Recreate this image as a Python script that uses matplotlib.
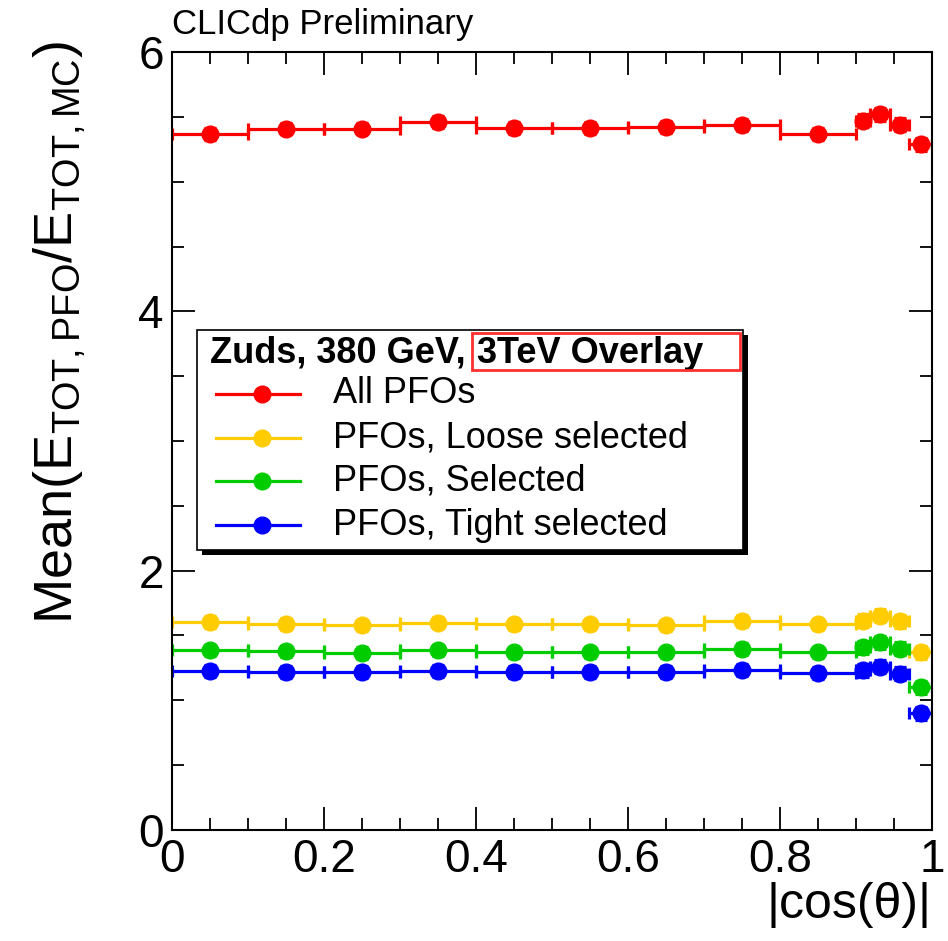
import numpy as np
import matplotlib
matplotlib.use("Agg")
import matplotlib.pyplot as plt
from matplotlib.patches import Rectangle
from matplotlib.ticker import MultipleLocator, FuncFormatter

plt.rcParams['font.family'] = ['Liberation Sans', 'DejaVu Sans']
plt.rcParams['mathtext.fontset'] = 'custom'
plt.rcParams['mathtext.rm'] = 'Liberation Sans'
plt.rcParams['mathtext.it'] = 'Liberation Sans:italic'

# |cos(theta)| binning: 0.1 wide up to 0.9, finer towards the edge
bin_edges = [0.0, 0.1, 0.2, 0.3, 0.4, 0.5, 0.6, 0.7, 0.8, 0.9, 0.918, 0.945, 0.97, 1.0]

# mean E_tot(PFO) / E_tot(MC) per bin
all_pfos = [5.37, 5.41, 5.41, 5.46, 5.415, 5.415, 5.423, 5.436, 5.37, 5.47, 5.52, 5.44, 5.29]
loose_sel = [1.602, 1.59, 1.577, 1.60, 1.585, 1.585, 1.577, 1.61, 1.585, 1.615, 1.654, 1.61, 1.372]
default_sel = [1.385, 1.377, 1.367, 1.385, 1.37, 1.37, 1.37, 1.397, 1.37, 1.41, 1.449, 1.397, 1.10]
tight_sel = [1.225, 1.218, 1.218, 1.225, 1.218, 1.218, 1.218, 1.235, 1.21, 1.23, 1.26, 1.205, 0.90]
mean_err = [0.045, 0.045, 0.045, 0.045, 0.045, 0.045, 0.045, 0.045, 0.045, 0.05, 0.05, 0.05, 0.05]

series = [
    ("All PFOs", all_pfos, "#ff0000"),
    ("PFOs, Loose selected", loose_sel, "#ffcc00"),
    ("PFOs, Selected", default_sel, "#00cc00"),
    ("PFOs, Tight selected", tight_sel, "#0000ff"),
]

edges = np.array(bin_edges)
centers = 0.5 * (edges[1:] + edges[:-1])
half_w = 0.5 * (edges[1:] - edges[:-1])

fig = plt.figure(figsize=(9.48, 9.41), dpi=100)
ax = fig.add_axes([0.1814, 0.118, 0.8017, 0.8267])

for label, vals, col in series:
    ax.errorbar(centers, vals, xerr=half_w, yerr=mean_err, fmt='o', color=col,
                ms=12, elinewidth=2.3, capsize=4, capthick=2.3)

ax.set_xlim(0, 1)
ax.set_ylim(0, 6)
ax.xaxis.set_major_locator(MultipleLocator(0.2))
ax.xaxis.set_minor_locator(MultipleLocator(0.05))
ax.yaxis.set_major_locator(MultipleLocator(2))
ax.yaxis.set_minor_locator(MultipleLocator(0.5))
ax.xaxis.set_major_formatter(FuncFormatter(lambda v, p: f"{v:g}"))
ax.tick_params(which='both', direction='in', top=True, right=True, width=1.3)
ax.tick_params(which='major', length=16.5, labelsize=33, pad=6)
ax.tick_params(which='minor', length=8.5)
for s in ax.spines.values():
    s.set_linewidth(1.5)

ax.set_xlabel("|cos(θ)|", fontsize=36, loc='right', labelpad=0)
fig.text(0.063, 0.957, r"Mean(E$_{\mathrm{TOT,PFO}}$/E$_{\mathrm{TOT,MC}}$)",
         rotation=90, fontsize=39, ha='center', va='top')
fig.text(0.181, 0.956, "CLICdp Preliminary", fontsize=25, ha='left', va='bottom')

# legend box with hard shadow
lx0, ly0, lw, lh = 0.033, 0.36, 0.718, 0.283
ax.add_patch(Rectangle((lx0 + 0.007, ly0 - 0.007), lw, lh, transform=ax.transAxes,
                       facecolor='black', edgecolor='none', zorder=5))
ax.add_patch(Rectangle((lx0, ly0), lw, lh, transform=ax.transAxes,
                       facecolor='white', edgecolor='black', lw=1.2, zorder=6))
hdr = ax.text(0.05, 0.613, "Zuds, 380 GeV,", transform=ax.transAxes, fontsize=26,
              fontweight='bold', ha='left', va='center', zorder=7)
ax.annotate("3TeV Overlay", xy=(1, 0.5), xycoords=hdr, xytext=(8, 0),
            textcoords='offset points', fontsize=26, fontweight='bold',
            ha='left', va='center', zorder=7)
# highlight frame around the overlay part of the header
ax.add_patch(Rectangle((0.395, 0.591), 0.352, 0.048, transform=ax.transAxes,
                       facecolor='none', edgecolor='#ff3030', lw=2, zorder=8,
                       clip_on=False))

entry_y = [0.561, 0.504, 0.449, 0.392]
for (label, vals, col), yy in zip(series, entry_y):
    ax.plot([0.058, 0.168], [yy, yy], color=col, lw=2.3, transform=ax.transAxes, zorder=7)
    ax.plot([0.118], [yy], 'o', color=col, ms=12, transform=ax.transAxes, zorder=7)
    ax.text(0.212, yy, label, transform=ax.transAxes, fontsize=26,
            ha='left', va='center', zorder=7)

fig.savefig("out.png", dpi=100)
